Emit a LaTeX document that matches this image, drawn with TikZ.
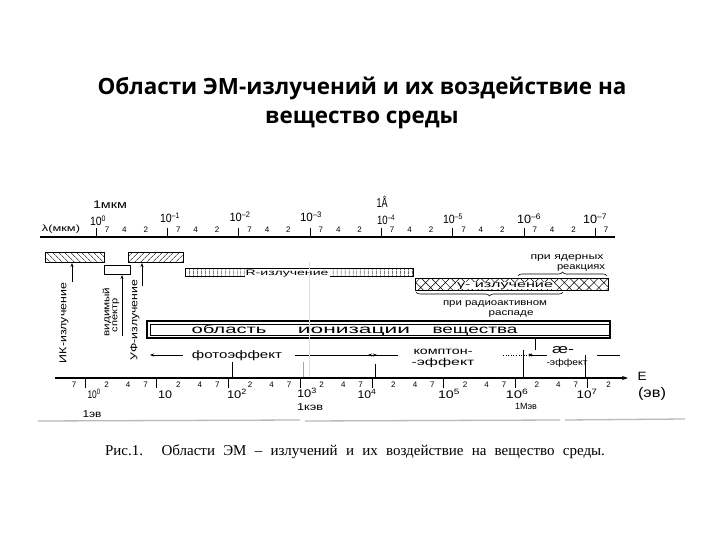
\documentclass[tikz,border=0pt]{standalone}
\usepackage{fontspec}
\usepackage{graphicx}
\setmainfont{Liberation Serif}
\newfontfamily\titlefont{Open Sans}
\newfontfamily\hand{Liberation Sans}
\usetikzlibrary{patterns.meta,decorations.pathreplacing,arrows.meta}
% size, width, text : scale only horizontally
\newcommand\fw[3]{\resizebox{#2pt}{\height}{\hand\fontsize{#1}{#1}\selectfont #3}}
\newcommand\tp[1]{10\textsuperscript{#1}}
\begin{document}
\begin{tikzpicture}[x=1pt,y=-1pt,
  every node/.style={inner sep=0pt,outer sep=0pt},
  hw/.style={anchor=base},
  ax/.style={line width=1.1pt},
  thinl/.style={line width=0.6pt},
  dig/.style={font=\hand\fontsize{8}{8}\selectfont},
  arr/.style={thinl,-{Stealth[length=4pt,width=3pt]}},
  brc/.style={thinl,decorate,decoration={brace,amplitude=4pt}}]
\useasboundingbox (0,0) rectangle (720,540);
% title
\node (t1) at (362,88) {\titlefont\bfseries\fontsize{22.4}{28}\selectfont Области ЭМ-излучений и их воздействие на};
\node (t2) at (362,120) {\titlefont\bfseries\fontsize{22.4}{28}\selectfont вещество среды};
% ---------- top axis
\draw[ax] (40,237) -- (615,237);
\node[hw] (lam) at (61,232) {\fw{9}{38}{λ(мкм)}};
\foreach \k in {0,...,7}{
  \pgfmathsetmacro\m{96+71.3*\k}
  \draw[thinl] (\m,228) -- (\m,237);
  \node[dig] (ts\k) at (\m+11,230) {7};
}
\foreach \k in {0,...,6}{
  \pgfmathsetmacro\m{96+71.3*\k}
  \node[dig] (tf\k) at (\m+28.4,230) {4};
  \node[dig] (tt\k) at (\m+49.8,230) {2};
}
\node[hw] (mkm) at (110,208) {\fw{11}{34}{1мкм}};
\node[hw] (ang) at (382,208) {\fw{13}{11}{1Å}};
\node[hw] (p0) at (98,226) {\fw{12}{16}{\tp{0}}};
\node[hw] (p1) at (170,223) {\fw{12}{20}{\tp{–1}}};
\node[hw] (p2) at (240,222) {\fw{12}{21}{\tp{–2}}};
\node[hw] (p3) at (311,222) {\fw{12}{22}{\tp{–3}}};
\node[hw] (p4) at (386,225) {\fw{12}{18}{\tp{–4}}};
\node[hw] (p5) at (453,224) {\fw{12}{20}{\tp{–5}}};
\node[hw] (p6) at (529,224) {\fw{12}{24}{\tp{–6}}};
\node[hw] (p7) at (595,224) {\fw{12}{24}{\tp{–7}}};
% ---------- bars
\draw[thinl,pattern={Lines[angle=-45,distance=4pt,line width=0.5pt]}] (45,252) rectangle (104,262);
\draw[thinl,pattern={Lines[angle=45,distance=4pt,line width=0.5pt]}] (128,252) rectangle (183,262);
\draw[thinl] (104,265) rectangle (130,274);
\coordinate (irt) at (72,263);
\coordinate (irb) at (72,282);
\coordinate (vst) at (122,275);
\coordinate (vsb) at (122,336);
\coordinate (uvt) at (142,263);
\coordinate (uvb) at (142,286);
\draw[arr] (irb) -- (irt);
\draw[arr] (vsb) -- (vst);
\draw[arr] (uvb) -- (uvt);
\node[rotate=90] (ir) at (64,323) {\fw{10}{80}{ИК-излучение}};
\node[rotate=90] (vis1) at (107,312) {\fw{9}{49}{видимый}};
\node[rotate=90] (vis2) at (116,315) {\fw{9}{34}{спектр}};
\node[rotate=90] (uv) at (135,320) {\fw{10}{80}{УФ-излучение}};
% X-ray
\draw[thinl,pattern={Lines[angle=90,distance=4pt,line width=0.5pt]}] (185,268) rectangle (413,276);
\node[hw,fill=white,inner xsep=1pt,inner ysep=0.5pt] (xr) at (287,275) {\fw{8}{83}{R-излучение}};
% gamma
\draw[thinl,pattern={Hatch[angle=45,distance=7pt,line width=0.5pt]}] (415,278) rectangle (608,290);
\node[hw,fill=white,inner xsep=1pt,inner ysep=0.5pt] (gm) at (505,287) {\fw{9}{96}{γ- излучение}};
\draw[brc] (518,276) -- (607,276);
\draw[brc] (563,292) -- (416,292);
\node[hw] (nr1) at (567,259) {\fw{9}{73}{при ядерных}};
\node[hw] (nr2) at (581,269) {\fw{9}{48}{реакциях}};
\node[hw] (rd1) at (495,305) {\fw{9}{104}{при радиоактивном}};
\node[hw] (rd2) at (511,315) {\fw{9}{45}{распаде}};
% ionisation box
\draw[line width=1.2pt] (147,321) rectangle (610,338);
\draw[thinl] (150,324) rectangle (610,335);
\node[hw] (io1) at (229,333) {\fw{12}{75}{область}};
\node[hw] (io2) at (354,333) {\fw{12}{112}{ионизации}};
\node[hw] (io3) at (475,333) {\fw{12}{85}{вещества}};
% effects row
\coordinate (fa) at (183,355);
\coordinate (fb) at (150,355);
\draw[arr] (fa) -- (fb);
\node[hw] (ph) at (237,358.5) {\fw{11}{90}{фотоэффект}};
\coordinate (fc) at (295,355);
\coordinate (fd) at (377,355);
\draw[arr] (fc) -- (fd);
\coordinate (ca) at (398,355);
\coordinate (cb) at (368,355);
\draw[arr] (ca) -- (cb);
\node[hw] (co1) at (443,354.5) {\fw{10}{59}{комптон-}};
\node[hw] (co2) at (443,365.5) {\fw{10}{63}{-эффект}};
\coordinate (cc) at (503,355);
\coordinate (cd) at (533,355);
\draw[arr,dotted] (cc) -- (cd);
\coordinate (pa) at (547,355);
\coordinate (pb) at (528,355);
\draw[arr] (pa) -- (pb);
\node[hw] (pp1) at (563,353) {\fw{13}{22}{æ-}};
\node[hw] (pp2) at (567,365) {\fw{9}{41}{-эффект}};
\coordinate (pc) at (597,355);
\coordinate (pd) at (620,355);
\draw[thinl] (pc) -- (pd);
% vertical markers
\draw[thinl] (535,338) -- (535,350);
\draw[thinl] (523,350) -- (523,378);
\draw[thinl] (585,355) -- (585,378);
\draw[thinl] (375,364) -- (375,378);
\draw[thinl] (232,362) -- (232,378);
\draw[thinl,gray!70] (303,362) -- (303,378);
\draw[gray!25,line width=0.5pt] (309,262) -- (309,378);
% ---------- bottom axis
\draw[ax,-{Stealth[length=6pt,width=4pt]}] (55,378) -- (628,378);
\draw[line width=2pt] (55,378) -- (100,378);
\node[dig] (bs) at (74,385) {7};
\foreach \k in {0,...,7}{
  \pgfmathsetmacro\m{85+71.7*\k}
  \draw[thinl] (\m,379) -- (\m,388);
  \node[dig] (bt\k) at (\m+21.6,385) {2};
}
\foreach \k in {0,...,6}{
  \pgfmathsetmacro\m{85+71.7*\k}
  \node[dig] (bf\k) at (\m+43.2,385) {4};
  \node[dig] (bv\k) at (\m+60.6,385) {7};
}
\node[hw] (q0) at (94,398) {\fw{11}{13}{\tp{0}}};
\node[hw] (q1) at (165,398) {\fw{11}{14}{10}};
\node[hw] (q2) at (237,398) {\fw{11}{20}{\tp{2}}};
\node[hw] (q3) at (307,397) {\fw{11}{20}{\tp{3}}};
\node[hw] (q4) at (367,398) {\fw{11}{19}{\tp{4}}};
\node[hw] (q5) at (449,398) {\fw{11}{22}{\tp{5}}};
\node[hw] (q6) at (517,398) {\fw{11}{23}{\tp{6}}};
\node[hw] (q7) at (587,398) {\fw{11}{21}{\tp{7}}};
\node[hw] (ev1) at (92,417) {\fw{10}{19}{1эв}};
\node[hw] (ev2) at (310,410) {\fw{10}{26}{1кэв}};
\node[hw] (ev3) at (526,409) {\fw{9}{22}{1Мэв}};
\node[hw] (en) at (642,380) {\fw{12}{9}{E}};
\node[hw] (enu) at (652,397) {\fw{14}{28}{(эв)}};
% scan edge
\draw[gray!55,line width=1.3pt] (38,421) -- (300,420) (305,421) -- (560,420) (565,420) -- (685,419);
% caption
\node (cap) at (355,452) {\fontsize{15}{15}\selectfont\makebox[500pt][s]{Рис.1. Области ЭМ – излучений и их воздействие на вещество среды.}};
\end{tikzpicture}
\end{document}
